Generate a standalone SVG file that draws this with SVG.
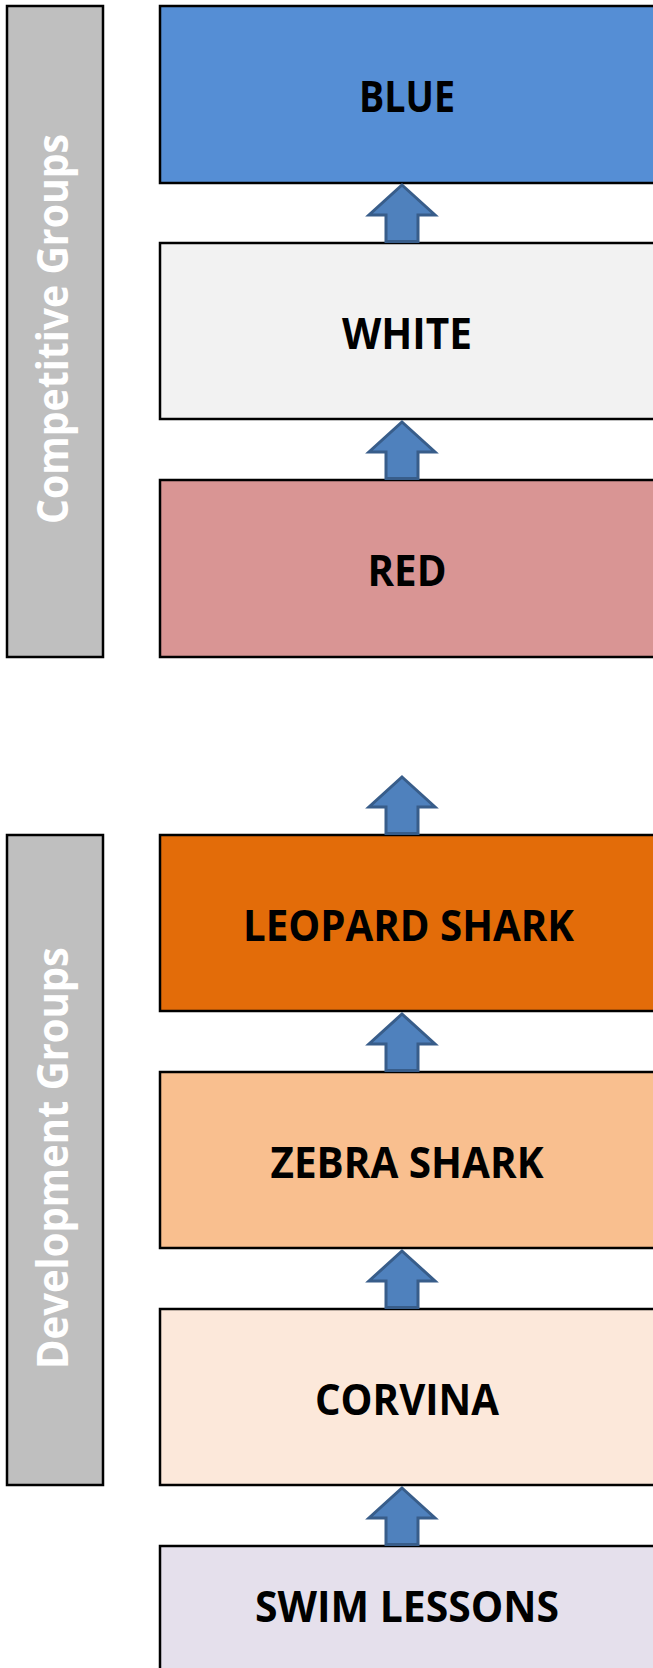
<svg xmlns="http://www.w3.org/2000/svg" width="653" height="1668" viewBox="0 0 653 1668">
  <style>
    .side { fill: #bfbfbf; stroke: #000; stroke-width: 2.5; }
    .side-label { font-family: "Open Sans", "Liberation Sans", sans-serif; font-weight: 700; font-size: 43px; fill: #ffffff; text-anchor: middle; }
    .level { stroke: #000; stroke-width: 2.5; }
    .level-label { font-family: "Open Sans", "Liberation Sans", sans-serif; font-weight: 700; font-size: 43px; fill: #000; text-anchor: middle; }
    .up { fill: #4f81bd; stroke: #385d8a; stroke-width: 3; stroke-linejoin: miter; }
  </style>
  <defs>
    <!-- block arrow pointing up; origin at the bottom centre -->
    <path id="up-arrow" d="M0,-58 L33,-28 L16,-28 L16,-1.5 L-16,-1.5 L-16,-28 L-33,-28 Z"/>
  </defs>
  <rect width="653" height="1668" fill="#ffffff"/>

  <!-- side bands -->
  <g id="competitive-groups">
    <rect class="side" x="7" y="6" width="96" height="651"/>
    <text class="side-label" transform="translate(67.5,329) rotate(-90)" textLength="390" lengthAdjust="spacingAndGlyphs">Competitive Groups</text>
  </g>
  <g id="development-groups">
    <rect class="side" x="7" y="835" width="96" height="650"/>
    <text class="side-label" transform="translate(67.5,1158) rotate(-90)" textLength="422" lengthAdjust="spacingAndGlyphs">Development Groups</text>
  </g>

  <!-- levels -->
  <g id="blue">
    <rect class="level" x="160" y="6" width="495" height="177" fill="#558ed5"/>
    <text class="level-label" x="407" y="111.5" textLength="96" lengthAdjust="spacingAndGlyphs">BLUE</text>
  </g>
  <g id="white">
    <rect class="level" x="160" y="243" width="495" height="176" fill="#f2f2f2"/>
    <text class="level-label" x="407" y="348.5" textLength="130" lengthAdjust="spacingAndGlyphs">WHITE</text>
  </g>
  <g id="red">
    <rect class="level" x="160" y="480" width="495" height="177" fill="#d99594"/>
    <text class="level-label" x="407" y="585.5" textLength="79" lengthAdjust="spacingAndGlyphs">RED</text>
  </g>
  <g id="leopard-shark">
    <rect class="level" x="160" y="835" width="495" height="176" fill="#e36c09"/>
    <text class="level-label" x="408.5" y="940.5" textLength="331" lengthAdjust="spacingAndGlyphs">LEOPARD SHARK</text>
  </g>
  <g id="zebra-shark">
    <rect class="level" x="160" y="1072" width="495" height="176" fill="#f9bf8f"/>
    <text class="level-label" x="407" y="1177.5" textLength="273" lengthAdjust="spacingAndGlyphs">ZEBRA SHARK</text>
  </g>
  <g id="corvina">
    <rect class="level" x="160" y="1309" width="495" height="176" fill="#fce8da"/>
    <text class="level-label" x="407" y="1414.5" textLength="184" lengthAdjust="spacingAndGlyphs">CORVINA</text>
  </g>
  <g id="swim-lessons">
    <rect class="level" x="160" y="1546" width="495" height="140" fill="#e5e0ec"/>
    <text class="level-label" x="407" y="1622" textLength="304" lengthAdjust="spacingAndGlyphs">SWIM LESSONS</text>
  </g>

  <!-- progression arrows -->
  <g id="connectors">
    <use href="#up-arrow" class="up" x="402" y="243"/>
    <use href="#up-arrow" class="up" x="402" y="480"/>
    <use href="#up-arrow" class="up" x="402" y="835"/>
    <use href="#up-arrow" class="up" x="402" y="1072"/>
    <use href="#up-arrow" class="up" x="402" y="1309"/>
    <use href="#up-arrow" class="up" x="402" y="1546"/>
  </g>
</svg>
